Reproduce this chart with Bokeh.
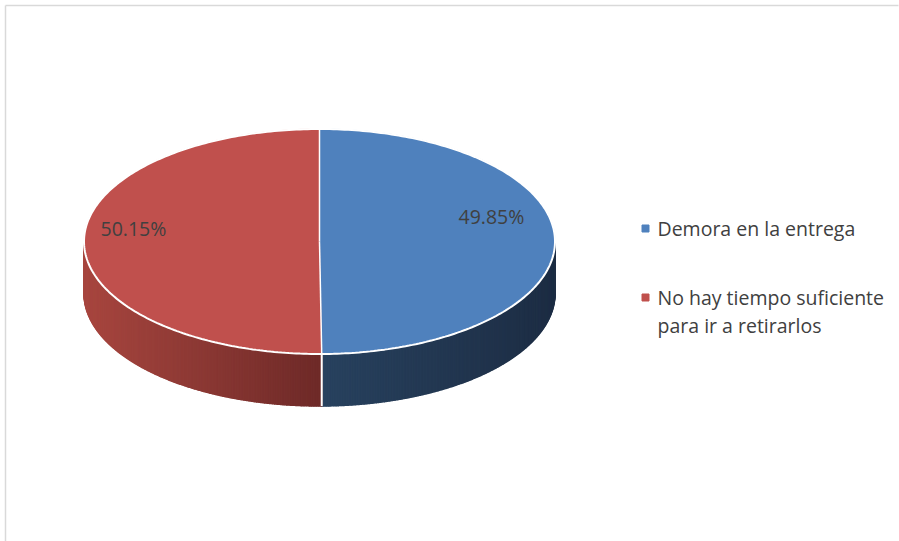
import textwrap
import numpy as np
from bokeh.plotting import figure
from bokeh.models import Range1d, ColumnDataSource
from bokeh.core.properties import value
from bokeh.embed import file_html
from bokeh.resources import INLINE

# ---------------- data ----------------
categories = ["Demora en la entrega", "No hay tiempo suficiente para ir a retirarlos"]
percentages = [49.85, 50.15]
label_texts = ["49.85%", "50.15%"]

# ---------------- style / layout ----------------
top_colors = ["#4F81BD", "#C0504D"]
side_left_colors = ["#28425F", "#A8463F"]   # colour at left end of the visible side
side_right_colors = ["#1D2D44", "#6E2A28"]  # colour at right end of the visible side
W, H = 899, 541
cx, cy, rx, ry, depth = 319.0, 241.0, 235.5, 112.5, 52.0
lab_r = [0.73, 0.79]
lab_dy = [-25.0, -13.0]
FONT = "Open Sans"
FONT_SIZE = "19.5px"
TEXT_COLOR = "#404040"

p = figure(width=W, height=H, output_backend="svg", toolbar_location=None,
           x_range=Range1d(0, W), y_range=Range1d(H, 0),
           x_axis_location=None, y_axis_location=None, min_border=0)
p.grid.visible = False
p.outline_line_color = None
p.background_fill_color = "white"
p.border_fill_color = "white"

# chart area border (top and left edges visible)
p.segment(x0=[5, 5], y0=[5, 5], x1=[W - 1, 5], y1=[5, H], line_color="#d9d9d9", line_width=1.5)


def pt(theta_deg, dy=0.0):
    t = np.radians(theta_deg)
    return cx + rx * np.cos(t), cy - ry * np.sin(t) + dy


def hex2rgb(h):
    h = h.lstrip("#")
    return np.array([int(h[i:i + 2], 16) for i in (0, 2, 4)], dtype=float)


def rgb2hex(c):
    c = np.clip(np.round(c), 0, 255).astype(int)
    return "#%02x%02x%02x" % tuple(c)


total = float(sum(percentages))
bounds = []
start = 90.0
for v in percentages:
    sweep = v / total * 360.0
    bounds.append((start, start - sweep))
    start -= sweep

# ---- side walls (front half, angles between -180 and 0) ----
side_xs, side_ys, side_cols = [], [], []
side_dividers = []
for i, (a0, a1) in enumerate(bounds):
    lo, hi = a1, a0
    segs = []
    for shift in (-360.0, 0.0, 360.0):
        s_lo, s_hi = max(lo + shift, -180.0), min(hi + shift, 0.0)
        if s_hi > s_lo:
            segs.append((s_lo, s_hi))
    for s_lo, s_hi in segs:
        x_a, _ = pt(s_lo)
        x_b, _ = pt(s_hi)
        xmin, xmax = min(x_a, x_b), max(x_a, x_b)
        n = 220
        edges = np.linspace(s_lo, s_hi, n + 1)
        cl, cr = hex2rgb(side_left_colors[i]), hex2rgb(side_right_colors[i])
        for k in range(n):
            th = np.linspace(edges[k], edges[k + 1], 3)
            tx, ty = pt(th)
            bx, by = pt(th[::-1], depth)
            xs = list(tx) + list(bx)
            ys = list(ty) + list(by)
            xm = 0.5 * (pt(edges[k])[0] + pt(edges[k + 1])[0])
            f = 0.0 if xmax == xmin else (xm - xmin) / (xmax - xmin)
            side_xs.append(xs)
            side_ys.append(ys)
            side_cols.append(rgb2hex(cl + (cr - cl) * f))
    for a in (a0, a1):
        aa = ((a + 180.0) % 360.0) - 180.0
        if -180.0 < aa < 0.0:
            side_dividers.append(aa)

p.patches(xs="xs", ys="ys", fill_color="c", line_color="c", line_width=1.5,
          source=ColumnDataSource(dict(xs=side_xs, ys=side_ys, c=side_cols)))

for a in sorted(set(np.round(side_dividers, 6))):
    x0, y0 = pt(a)
    p.segment(x0=[x0], y0=[y0], x1=[x0], y1=[y0 + depth], line_color="white", line_width=2)

# ---- top faces ----
top_xs, top_ys = [], []
for a0, a1 in bounds:
    th = np.linspace(a0, a1, 200)
    x, y = pt(th)
    top_xs.append([cx] + list(x))
    top_ys.append([cy] + list(y))
p.patches(xs="xs", ys="ys", fill_color="c", line_color="c", line_width=0.5,
          source=ColumnDataSource(dict(xs=top_xs, ys=top_ys, c=top_colors)))

# white outline and dividers
th = np.linspace(0, 360, 400)
ex, ey = pt(th)
p.line(ex, ey, line_color="white", line_width=2)
for a0, a1 in bounds:
    x1, y1 = pt(a0)
    p.segment(x0=[cx], y0=[cy], x1=[x1], y1=[y1], line_color="white", line_width=1.5)

# ---- data labels ----
lx, ly = [], []
for i, (a0, a1) in enumerate(bounds):
    mid = np.radians(0.5 * (a0 + a1))
    lx.append(cx + lab_r[i] * rx * np.cos(mid))
    ly.append(cy - lab_r[i] * ry * np.sin(mid) + lab_dy[i])
p.text(x=lx, y=ly, text=label_texts, text_font=value(FONT), text_font_size=FONT_SIZE,
       text_color=TEXT_COLOR, text_align="center", text_baseline="middle")

# ---- legend ----
leg_x, leg_y0, item_gap, line_gap = 645.0, 228.0, 69.0, 28.0
mx, my, mc, tx, ty, tt = [], [], [], [], [], []
for i, cat in enumerate(categories):
    y = leg_y0 + i * item_gap
    mx.append(leg_x)
    my.append(y)
    mc.append(top_colors[i])
    for j, line in enumerate(textwrap.wrap(cat, 24)):
        tx.append(leg_x + 12)
        ty.append(y + j * line_gap)
        tt.append(line)
p.scatter(x=mx, y=my, marker="square", size=7, fill_color=mc, line_color=mc)
p.text(x=tx, y=ty, text=tt, text_font=value(FONT), text_font_size=FONT_SIZE,
       text_color=TEXT_COLOR, text_align="left", text_baseline="middle")

open("out.html", "w").write(file_html(p, INLINE))
